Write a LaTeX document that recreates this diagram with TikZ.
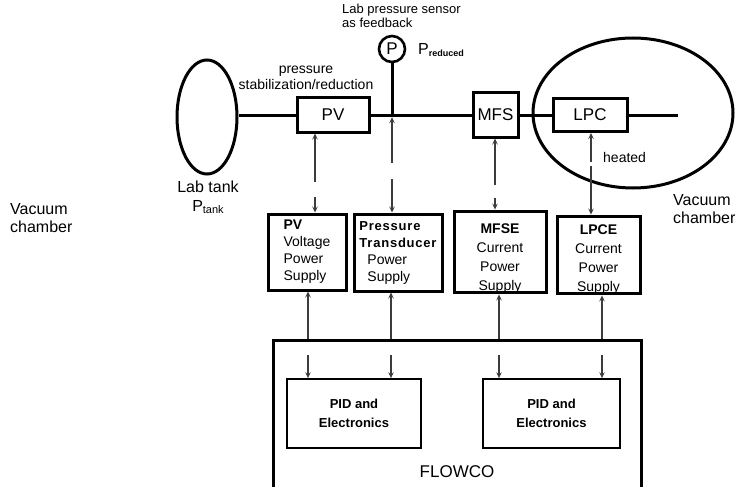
\documentclass[tikz,border=0pt]{standalone}
\usepackage{fontspec}
\setmainfont{Liberation Sans}
\usepackage{xcolor}
\definecolor{ink}{HTML}{000000}
\definecolor{wire}{HTML}{3C3C3C}
\usepackage{tikz}
\usetikzlibrary{arrows.meta, shapes.geometric, calc}
\tikzset{
  >={Stealth[length=6pt, width=5.5pt, inset=2.5pt]},
  part/.style={draw=ink, line width=3pt, inner sep=0pt, font=\fontsize{17}{20}\selectfont},
  supply/.style={draw=ink, line width=3pt, inner sep=0pt, align=left, font=\fontsize{14}{17}\selectfont},
  pid/.style={draw=ink, line width=1.8pt, inner sep=0pt, align=center, font=\fontsize{13}{19}\selectfont\bfseries},
  pipe/.style={line width=3pt, draw=ink},
  sig/.style={line width=1.1pt, color=wire},
  lbl/.style={inner sep=0pt, align=left, font=\fontsize{14}{16}\selectfont},
}

\begin{document}
\begin{tikzpicture}[x=1pt, y=-1pt]
  \useasboundingbox (0,0) rectangle (742,487);
  % gas line: tank, valve, flow sensor, chamber
  \node[draw=ink, ellipse, line width=3pt, minimum width=60pt, minimum height=114pt] (tank) at (207,117) {};
  \node[draw=ink, ellipse, line width=3pt, minimum width=200pt, minimum height=150pt] (chamber) at (633,113) {};
  \node[part, minimum width=72pt, minimum height=34pt] (pv) at (333,115) {PV};
  \node[part, minimum width=45pt, minimum height=44pt] (mfs) at (495.5,115) {MFS};
  \node[part, minimum width=74pt, minimum height=33pt] (lpc) at (590,115) {LPC};
  \node[draw=ink, circle, line width=2.6pt, minimum size=26pt, inner sep=0pt, font=\fontsize{17}{17}\selectfont] (sensor) at (392,49) {P};
  \node[inner sep=0pt, minimum size=0pt] (tee) at (392,117) {};
  \coordinate (outlet) at (678,115);
  \draw[pipe] (tank.east |- pv.west) -- (pv.west);
  \draw[pipe] (pv.east) -- (mfs.west);
  \draw[pipe] (mfs.east) -- (lpc.west);
  \draw[pipe] (lpc.east) -- (outlet);
  \draw[pipe] (sensor.south) -- (tee.center |- pv.east);
  % line labels
  \node[lbl, anchor=north west, font=\fontsize{13}{14}\selectfont] (sensorlbl) at (342,4) {Lab pressure sensor\\as feedback};
  \node[lbl, anchor=west, font=\fontsize{16}{16}\selectfont] (predlbl) at (418,50) {P\raisebox{-2.5pt}{\fontsize{9}{9}\selectfont\bfseries reduced}};
  \node[lbl, align=center] (stablbl) at (306,78) {pressure\\stabilization/reduction};
  \node[lbl, align=center, font=\fontsize{16}{19}\selectfont] (tanklbl) at (208,197) {Lab tank\\P\raisebox{-2pt}{\fontsize{11}{11}\selectfont tank}};
  \node[lbl, anchor=west] (heatlbl) at (603,157) {heated};
  \node[lbl, anchor=west, font=\fontsize{16}{18}\selectfont] (vacleft) at (10,218) {Vacuum\\chamber};
  \node[lbl, anchor=west, font=\fontsize{16}{18}\selectfont] (vacright) at (673,209) {Vacuum\\chamber};
  % supplies
  \node[supply, minimum width=78pt, minimum height=76pt] (pvs) at (307,252) {\textbf{PV}\\Voltage\\Power\\Supply};
  \node[supply, minimum width=88pt, minimum height=77pt] (pts) at (398,252.5)
    {{\fontsize{13}{17}\selectfont\bfseries\addfontfeature{LetterSpace=6}Pressure}\\{\fontsize{13}{17}\selectfont\bfseries\addfontfeature{LetterSpace=6}Transducer}\\\hspace*{8pt}Power\\\hspace*{8pt}Supply};
  \node[supply, align=center, font=\fontsize{14}{19}\selectfont, minimum width=92pt, minimum height=80pt] (mfse) at (500,252) {\rule{0pt}{22pt}\textbf{MFSE}\\Current\\Power\\Supply};
  \node[supply, align=center, font=\fontsize{14}{19}\selectfont, minimum width=83pt, minimum height=76pt] (lpce) at (598.5,255) {\rule{0pt}{18pt}\textbf{LPCE}\\Current\\Power\\Supply};
  % controller
  \node[draw=ink, line width=3pt, minimum width=368pt, minimum height=160pt, anchor=north west] (flowco) at (272,339) {};
  \node[pid, minimum width=134pt, minimum height=69pt] (pid1) at (354,413.5) {PID and\\Electronics};
  \node[pid, minimum width=137pt, minimum height=69pt] (pid2) at (551.5,413.5) {PID and\\Electronics};
  \node[lbl, font=\fontsize{17}{17}\selectfont] (flowlbl) at (457,472) {FLOWCO};
  % broken signal lines, line to supply
  \foreach \src/\dst/\x/\ya/\yb in {pv/pvs/315/182/197, tee/pts/392/163/179, mfs/mfse/495/185/198, lpc/lpce/591/162/166} {
    \coordinate (gapA) at (\x,\ya);
    \coordinate (gapB) at (\x,\yb);
    \draw[sig, <-] (\src.south -| gapA) -- (gapA);
    \draw[sig, ->] (gapB) -- (\dst.north -| gapB);
  }
  % supply to controller
  \foreach \src/\dst/\x in {pvs/pid1/308, pts/pid1/391, mfse/pid2/499, lpce/pid2/602} {
    \coordinate (gapC) at (\x,355);
    \draw[sig, <-] (\src.south -| gapC) -- (flowco.north -| gapC);
    \draw[sig, ->] (gapC) -- (\dst.north -| gapC);
  }
\end{tikzpicture}
\end{document}
